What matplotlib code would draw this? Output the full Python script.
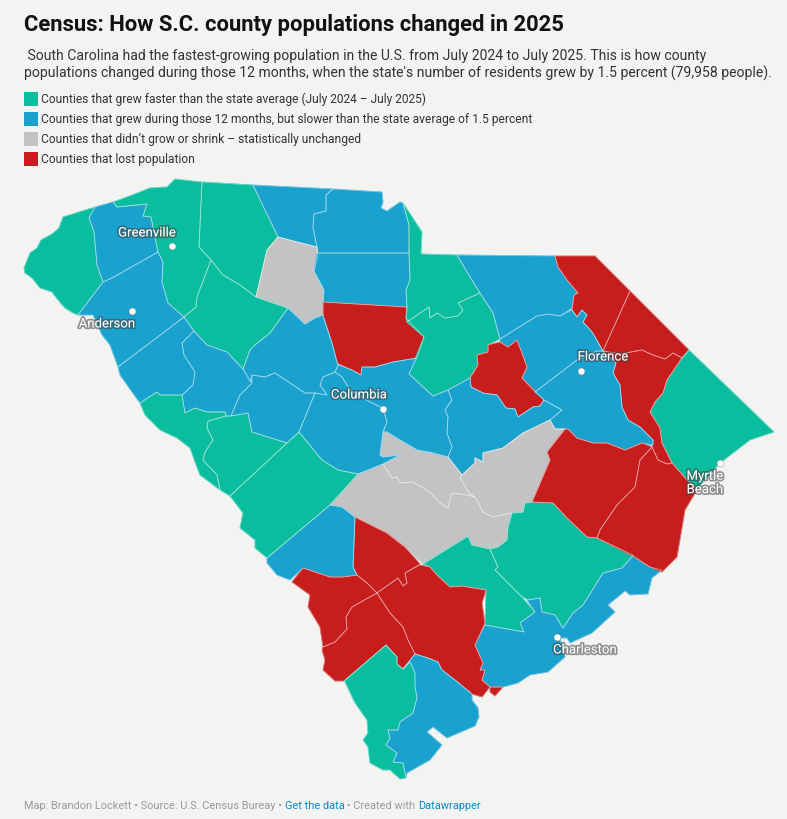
import matplotlib
matplotlib.use("Agg")
import matplotlib.pyplot as plt
import matplotlib.patheffects as pe
from matplotlib.patches import Polygon, Rectangle

plt.rcParams['font.family'] = ['Roboto', 'DejaVu Sans']

TITLE = "Census: How S.C. county populations changed in 2025"
SUBTITLE = [" South Carolina had the fastest-growing population in the U.S. from July 2024 to July 2025. This is how county",
            "populations changed during those 12 months, when the state's number of residents grew by 1.5 percent (79,958 people)."]
CATEGORY_LABELS = ["Counties that grew faster than the state average (July 2024 – July 2025)",
                   "Counties that grew during those 12 months, but slower than the state average of 1.5 percent",
                   "Counties that didn’t grow or shrink – statistically unchanged",
                   "Counties that lost population"]
CATEGORY_COLORS = ["#0bbd9f", "#1aa2cf", "#c3c3c3", "#c81d1d"]
FASTER, SLOWER, UNCHANGED, LOST = 0, 1, 2, 3

# County outlines, in map units (one unit = one reference pixel).
OCONEE = [(24,268),(25,273),(32,278),(40,288),(52,292),(58,300),(65,308),(73,313),(78,315),(103,282),(97,265),(94,232),(89,218),(95,207),(63,217),(59,228),(52,234),(41,240),(37,248),(30,253)]
PICKENS = [(95,207),(113,202),(117,207),(147,204),(143,216),(151,217),(158,252),(112,278),(103,282),(97,265),(94,232),(89,218)]
GREENVILLE = [(113,202),(127,197),(150,188),(167,187),(175,179),(192,181),(202,182),(199,247),(211,260),(197,297),(196,307),(184,317),(168,303),(162,282),(163,262),(158,252),(151,217),(143,216),(147,204),(117,207)]
SPARTANBURG = [(202,182),(253,185),(265,210),(278,237),(267,250),(256,297),(240,285),(223,275),(211,260),(199,247)]
CHEROKEE = [(253,185),(333,189),(326,195),(326,211),(314,214),(313,228),(317,247),(297,242),(278,237),(265,210)]
YORK = [(333,189),(382,192),(383,202),(381,208),(387,211),(400,202),(403,203),(409,225),(409,253),(317,253),(317,247),(313,228),(314,214),(326,211),(326,195)]
UNION = [(278,237),(297,242),(317,247),(318,255),(314,271),(324,290),(323,301),(323,315),(315,318),(305,324),(288,308),(273,303),(256,297),(267,250)]
CHESTER = [(317,253),(409,253),(410,280),(406,290),(407,307),(323,302),(324,290),(314,271)]
FAIRFIELD = [(323,302),(407,307),(406,318),(424,337),(417,358),(393,362),(375,367),(362,367),(361,375),(352,370),(337,363),(332,343),(323,317)]
LANCASTER = [(403,203),(422,232),(421,254),(457,255),(467,272),(480,293),(458,303),(463,310),(458,316),(445,318),(437,313),(430,318),(429,307),(407,322),(406,318),(407,307),(406,290),(410,280),(409,253),(409,225)]
KERSHAW = [(407,322),(429,307),(430,318),(437,313),(445,318),(458,316),(463,310),(458,303),(480,293),(493,313),(500,339),(488,345),(488,352),(477,355),(478,365),(470,378),(448,390),(433,396),(409,374),(424,337)]
CHESTERFIELD = [(457,255),(555,256),(558,267),(567,280),(578,293),(574,295),(572,308),(560,316),(548,314),(537,316),(500,339),(493,313),(480,293),(467,272)]
MARLBORO = [(555,256),(595,256),(630,291),(603,351),(595,337),(592,332),(583,322),(587,315),(582,310),(577,317),(572,310),(574,295),(578,293),(567,280),(558,267)]
DILLON = [(630,291),(689,350),(682,358),(673,353),(665,359),(653,355),(642,350),(620,354),(603,351)]
HORRY = [(689,350),(774,432),(750,440),(720,463),(703,482),(697,490),(687,480),(672,463),(662,443),(660,428),(650,412),(655,402),(663,393),(667,380),(682,358)]
MARION = [(603,351),(620,354),(642,350),(653,355),(665,359),(673,353),(682,358),(667,380),(663,393),(655,402),(650,412),(660,428),(662,443),(672,463),(667,464),(658,460),(652,447),(653,440),(640,427),(628,420),(622,407),(620,385),(613,373),(616,363)]
DARLINGTON = [(500,339),(537,316),(548,314),(560,316),(572,310),(577,317),(582,310),(587,315),(583,322),(592,332),(595,337),(603,351),(597,351),(577,360),(535,392),(522,378),(527,367),(522,353),(517,340),(508,347),(500,342)]
LEE = [(488,345),(500,342),(508,347),(517,340),(522,353),(527,367),(522,378),(544,400),(540,406),(533,407),(518,417),(515,409),(506,408),(497,395),(483,393),(471,387),(470,378),(478,365),(477,355),(488,352)]
FLORENCE = [(597,351),(603,351),(616,363),(613,373),(620,385),(622,407),(628,420),(640,427),(653,440),(653,445),(642,443),(625,450),(607,443),(593,443),(577,438),(568,429),(555,429),(550,420),(562,410),(544,400),(535,392),(577,360)]
SUMTER = [(448,390),(470,378),(471,387),(483,393),(497,395),(506,408),(515,409),(518,417),(533,407),(540,406),(544,400),(562,410),(550,420),(523,433),(503,448),(483,453),(483,462),(475,458),(475,463),(462,475),(448,457),(452,447),(447,433),(448,417),(445,410),(452,400)]
CLARENDON = [(550,420),(555,429),(565,429),(547,452),(550,460),(532,502),(525,503),(523,512),(512,513),(493,517),(483,512),(477,500),(468,492),(460,477),(462,475),(475,463),(475,458),(483,462),(483,453),(503,448),(523,433)]
CALHOUN = [(383,464),(400,455),(383,457),(380,455),(383,432),(387,432),(400,440),(417,450),(433,453),(448,457),(462,475),(460,477),(468,492),(475,497),(467,495),(452,493),(448,508),(440,503),(430,492),(413,482),(400,483),(397,477),(392,478)]
ORANGEBURG = [(330,505),(358,474),(383,464),(392,478),(397,477),(400,483),(413,482),(430,492),(440,503),(448,508),(452,493),(467,495),(475,497),(483,512),(493,517),(512,513),(508,527),(507,540),(498,547),(490,549),(472,545),(468,536),(423,564),(405,547),(387,533),(355,517),(342,507)]
BERKELEY = [(512,513),(523,512),(525,503),(532,502),(553,503),(567,518),(587,537),(597,538),(633,555),(622,568),(603,573),(583,605),(573,613),(563,628),(558,620),(555,615),(542,612),(540,598),(528,600),(520,595),(495,570),(498,567),(490,549),(498,547),(507,540),(508,527)]
DORCHESTER = [(468,536),(472,545),(490,549),(498,567),(495,570),(520,595),(535,612),(520,623),(524,632),(485,625),(486,590),(462,586),(450,587),(437,575),(430,567),(423,564)]
CHARLESTON = [(485,625),(524,632),(520,623),(535,612),(527,600),(540,598),(542,612),(555,615),(558,620),(563,628),(573,613),(583,605),(603,573),(622,568),(633,556),(650,567),(662,570),(652,578),(648,594),(630,595),(625,591),(608,605),(615,612),(592,633),(570,643),(567,638),(560,638),(565,657),(548,672),(530,675),(518,683),(503,687),(490,687),(482,680),(485,670),(480,670),(483,663),(475,645)]
COLLETON = [(420,565),(430,567),(437,575),(450,587),(462,586),(486,590),(482,603),(485,623),(475,645),(483,663),(480,670),(485,670),(482,680),(490,687),(482,697),(472,694),(455,680),(442,670),(438,662),(428,658),(415,654),(408,640),(403,627),(390,613),(377,593),(398,578),(403,586),(407,583),(405,573)]
EDISTO_TIP = [(490,687),(503,687),(495,696),(490,692)]
BAMBERG = [(355,517),(387,533),(405,547),(420,564),(405,573),(407,583),(403,586),(398,578),(377,593),(367,583),(357,575),(353,567)]
BARNWELL = [(330,505),(342,507),(355,517),(353,567),(357,575),(343,577),(330,577),(303,568),(290,580),(277,575),(267,563),(267,558)]
ALLENDALE = [(303,568),(330,577),(343,577),(357,575),(367,583),(377,593),(352,607),(346,617),(347,629),(335,642),(323,647),(320,627),(308,607),(310,595),(292,582)]
HAMPTON = [(377,593),(390,613),(403,627),(408,640),(415,654),(403,669),(397,664),(397,657),(386,645),(344,681),(335,681),(323,670),(325,660),(322,650),(323,647),(335,642),(347,629),(346,617),(352,607)]
JASPER = [(386,645),(397,657),(397,664),(403,669),(410,662),(415,673),(415,687),(417,698),(413,713),(400,722),(398,730),(388,730),(390,738),(386,745),(397,753),(393,762),(403,763),(406,778),(400,779),(390,770),(383,770),(370,763),(368,747),(363,740),(368,733),(367,720),(355,703),(345,682),(344,681)]
BEAUFORT = [(415,654),(428,658),(438,662),(442,670),(455,680),(472,694),(472,700),(478,708),(479,717),(475,726),(447,738),(433,727),(427,732),(442,745),(430,760),(407,773),(406,778),(403,763),(393,762),(397,753),(386,745),(390,738),(388,730),(398,730),(400,722),(413,713),(417,698),(415,687),(415,673),(410,662),(403,669)]
WILLIAMSBURG = [(565,429),(568,429),(577,438),(593,443),(607,443),(625,450),(642,443),(652,447),(640,460),(635,487),(617,505),(600,530),(597,538),(587,537),(567,518),(553,503),(532,502),(550,460),(547,452)]
GEORGETOWN = [(652,447),(658,460),(667,464),(672,463),(687,480),(697,490),(685,510),(677,557),(662,572),(650,567),(633,556),(597,538),(600,530),(617,505),(635,487),(640,460)]
NEWBERRY = [(288,308),(305,324),(315,318),(323,315),(332,343),(338,365),(335,372),(323,377),(320,385),(327,395),(315,393),(305,393),(290,383),(275,373),(265,377),(252,375),(250,382),(243,369),(250,350),(255,345),(270,333)]
LAURENS = [(184,317),(196,307),(197,297),(211,260),(223,275),(240,285),(256,297),(273,303),(288,308),(270,333),(255,345),(250,350),(243,369),(227,352),(207,345),(194,331)]
ANDERSON = [(112,278),(158,252),(163,262),(162,282),(168,303),(184,317),(118,367),(110,345),(102,335),(93,315),(78,315),(103,282)]
ABBEVILLE = [(184,317),(194,331),(182,343),(184,355),(195,372),(193,385),(182,395),(160,395),(157,392),(140,403),(132,392),(125,382),(120,375),(118,367)]
GREENWOOD = [(194,331),(207,345),(227,352),(243,369),(252,383),(240,395),(231,416),(226,416),(225,412),(207,412),(195,408),(185,413),(182,395),(193,385),(195,372),(184,355),(182,343)]
MCCORMICK = [(140,403),(157,392),(160,395),(182,395),(185,413),(195,408),(207,412),(225,412),(226,416),(208,421),(207,428),(213,440),(205,452),(203,460),(217,475),(220,490),(200,475),(195,462),(190,448),(177,438),(160,430),(145,415)]
EDGEFIELD = [(208,421),(226,416),(231,416),(248,413),(252,432),(287,443),(230,496),(220,490),(217,475),(203,460),(205,452),(213,440),(207,428)]
SALUDA = [(252,383),(252,375),(265,377),(275,373),(290,383),(305,393),(315,393),(299,432),(287,443),(252,432),(248,413),(231,416),(240,395)]
LEXINGTON = [(315,393),(327,395),(320,385),(323,377),(335,372),(342,377),(350,390),(370,402),(383,408),(387,422),(383,432),(380,455),(383,457),(400,455),(383,464),(358,474),(338,470),(322,460),(299,432)]
AIKEN = [(299,432),(322,460),(338,470),(358,474),(330,505),(267,558),(255,548),(255,540),(240,528),(243,513),(230,496),(287,443)]
RICHLAND = [(338,365),(352,370),(361,375),(362,367),(375,367),(393,362),(417,358),(409,374),(433,396),(448,390),(452,400),(445,410),(448,417),(447,433),(452,447),(448,457),(433,453),(417,450),(400,440),(387,432),(383,432),(387,422),(383,408),(370,402),(350,390),(342,377),(335,372)]

COUNTY_OUTLINES = [OCONEE, PICKENS, GREENVILLE, SPARTANBURG, CHEROKEE, YORK, UNION, CHESTER, FAIRFIELD, LANCASTER, KERSHAW,
                   CHESTERFIELD, MARLBORO, DILLON, HORRY, MARION, DARLINGTON, LEE, FLORENCE, SUMTER, CLARENDON, CALHOUN,
                   ORANGEBURG, BERKELEY, DORCHESTER, CHARLESTON, COLLETON, EDISTO_TIP, BAMBERG, BARNWELL, ALLENDALE,
                   HAMPTON, JASPER, BEAUFORT, WILLIAMSBURG, GEORGETOWN, NEWBERRY, LAURENS, ANDERSON, ABBEVILLE, GREENWOOD,
                   MCCORMICK, EDGEFIELD, SALUDA, LEXINGTON, AIKEN, RICHLAND]
COUNTY_CATEGORY = [FASTER, SLOWER, FASTER, FASTER, SLOWER, SLOWER, UNCHANGED, SLOWER, LOST, FASTER, FASTER,
                   SLOWER, LOST, LOST, FASTER, LOST, SLOWER, LOST, SLOWER, SLOWER, UNCHANGED, UNCHANGED,
                   UNCHANGED, FASTER, FASTER, SLOWER, LOST, LOST, LOST, SLOWER, LOST,
                   LOST, FASTER, SLOWER, LOST, LOST, SLOWER, FASTER, SLOWER, SLOWER, SLOWER,
                   FASTER, FASTER, SLOWER, SLOWER, FASTER, SLOWER]

CITY_NAMES = ["Greenville", "Anderson", "Columbia", "Florence", "Myrtle\nBeach", "Charleston"]
CITY_POINTS = [(172,246), (132,311), (383,409), (581,371), (720,463), (557,637)]
CITY_LABEL_POINTS = [(147,233), (107,324), (359,395), (603,357), (705,483), (585,650)]

BG = "#f3f3f2"
fig = plt.figure(figsize=(7.87, 8.19), dpi=100, facecolor=BG)
ax = fig.add_axes([0, 0, 1, 1])
ax.set_xlim(0, 787)
ax.set_ylim(819, 0)
ax.axis("off")

for outline, cat in zip(COUNTY_OUTLINES, COUNTY_CATEGORY):
    ax.add_patch(Polygon(outline, closed=True, facecolor=CATEGORY_COLORS[cat], edgecolor=CATEGORY_COLORS[cat], lw=0.6, zorder=2))
for outline in COUNTY_OUTLINES:
    ax.add_patch(Polygon(outline, closed=True, fill=False, edgecolor=(1, 1, 1, 0.4), lw=0.6, zorder=3))

halo = [pe.withStroke(linewidth=2.4, foreground=(0.25, 0.25, 0.25, 0.55))]
for (x, y) in CITY_POINTS:
    ax.plot([x], [y], "o", ms=5, mfc="white", mec="#777777", mew=0.3, zorder=5)
for name, (x, y) in zip(CITY_NAMES, CITY_LABEL_POINTS):
    ax.text(x, y, name, color="white", fontsize=9.5, ha="center", va="center", linespacing=1.05, path_effects=halo, zorder=6)

ax.text(24, 25, TITLE, fontsize=15.8, fontweight="bold", color="#111111", va="center", ha="left")
for y, line in zip((56, 73), SUBTITLE):
    ax.text(24, y, line, fontsize=10.1, color="#333333", va="center", ha="left")

for y, label, color in zip((99, 119, 139, 159), CATEGORY_LABELS, CATEGORY_COLORS):
    ax.add_patch(Rectangle((24, y - 7), 14, 14, facecolor=color, edgecolor="none"))
    ax.text(41, y, label, fontsize=8.67, color="#333333", va="center", ha="left")

FOOT_GREY = "#9a9a9a"
FOOT_LINK = "#0a8ac9"
parts = [("Map: Brandon Lockett • Source: U.S. Census Bureay • ", FOOT_GREY), ("Get the data", FOOT_LINK),
         (" • Created with ", FOOT_GREY), ("Datawrapper", FOOT_LINK)]
x = 24
r = fig.canvas.get_renderer()
for s, c in parts:
    t = ax.text(x, 806, s, fontsize=7.93, color=c, va="center", ha="left")
    x = t.get_window_extent(r).x1

fig.savefig("out.png", dpi=100, facecolor=BG)
